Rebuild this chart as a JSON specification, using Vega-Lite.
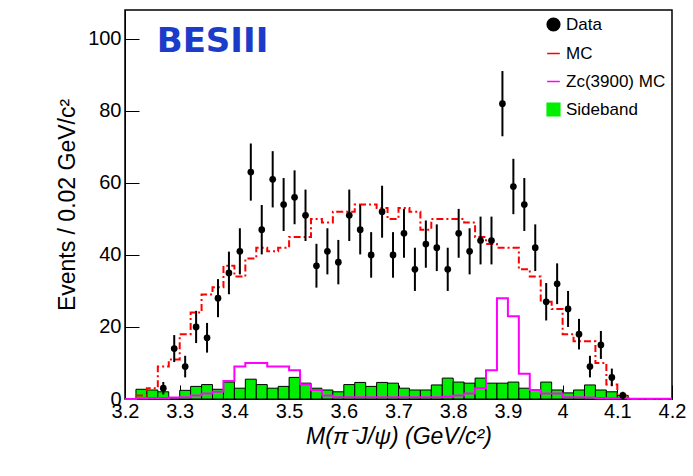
{
"$schema":"https://vega.github.io/schema/vega-lite/v6.json",
"autosize":{"type":"none"},
"width":547,"height":389,
"padding":{"left":125,"top":10,"right":21,"bottom":77},
"background":"white",
"config":{"font":"Liberation Sans","view":{"stroke":"black","strokeWidth":1.5}},
"datasets":{
"data":[{"x":3.27,"y":3},{"x":3.29,"y":14},{"x":3.31,"y":9},{"x":3.33,"y":20},{"x":3.35,"y":17},{"x":3.37,"y":28},{"x":3.39,"y":35},{"x":3.41,"y":41},{"x":3.43,"y":63},{"x":3.45,"y":47},{"x":3.47,"y":61},{"x":3.49,"y":54},{"x":3.51,"y":56},{"x":3.53,"y":51},{"x":3.55,"y":37},{"x":3.57,"y":41},{"x":3.59,"y":38},{"x":3.61,"y":51},{"x":3.63,"y":47},{"x":3.65,"y":40},{"x":3.67,"y":52},{"x":3.69,"y":40},{"x":3.71,"y":46},{"x":3.73,"y":36},{"x":3.75,"y":43},{"x":3.77,"y":42},{"x":3.79,"y":36},{"x":3.81,"y":46},{"x":3.83,"y":41},{"x":3.85,"y":44},{"x":3.87,"y":44},{"x":3.89,"y":82},{"x":3.91,"y":59},{"x":3.93,"y":54},{"x":3.95,"y":42},{"x":3.97,"y":27},{"x":3.99,"y":32},{"x":4.01,"y":25},{"x":4.03,"y":18},{"x":4.05,"y":9},{"x":4.07,"y":15},{"x":4.09,"y":6},{"x":4.11,"y":1}],
"mc":[{"x":3.22,"y":1},{"x":3.24,"y":3},{"x":3.26,"y":9},{"x":3.28,"y":11},{"x":3.30,"y":18},{"x":3.32,"y":24},{"x":3.34,"y":29},{"x":3.36,"y":31},{"x":3.38,"y":37},{"x":3.40,"y":34},{"x":3.42,"y":39},{"x":3.44,"y":42},{"x":3.46,"y":41},{"x":3.48,"y":42},{"x":3.50,"y":45},{"x":3.52,"y":45},{"x":3.54,"y":50},{"x":3.56,"y":49},{"x":3.58,"y":52},{"x":3.60,"y":52},{"x":3.62,"y":54},{"x":3.64,"y":54},{"x":3.66,"y":53},{"x":3.68,"y":50},{"x":3.70,"y":53},{"x":3.72,"y":52},{"x":3.74,"y":47},{"x":3.76,"y":50},{"x":3.78,"y":50},{"x":3.80,"y":50},{"x":3.82,"y":49},{"x":3.84,"y":45},{"x":3.86,"y":43},{"x":3.88,"y":42},{"x":3.90,"y":42},{"x":3.92,"y":36},{"x":3.94,"y":34},{"x":3.96,"y":27},{"x":3.98,"y":25},{"x":4.00,"y":18},{"x":4.02,"y":16},{"x":4.04,"y":16},{"x":4.06,"y":10},{"x":4.08,"y":4},{"x":4.10,"y":1},{"x":4.12,"y":0},{"x":4.20,"y":0}],
"zc":[{"x":3.20,"y":0},{"x":3.22,"y":0.2},{"x":3.24,"y":0.3},{"x":3.26,"y":0.3},{"x":3.28,"y":0.4},{"x":3.30,"y":0.5},{"x":3.32,"y":1},{"x":3.34,"y":1.5},{"x":3.36,"y":2},{"x":3.38,"y":5},{"x":3.40,"y":9},{"x":3.42,"y":10},{"x":3.44,"y":10},{"x":3.46,"y":9},{"x":3.48,"y":9},{"x":3.50,"y":8},{"x":3.52,"y":4},{"x":3.54,"y":2.5},{"x":3.56,"y":1},{"x":3.58,"y":0.5},{"x":3.60,"y":0.5},{"x":3.62,"y":0.5},{"x":3.64,"y":0.5},{"x":3.66,"y":0.5},{"x":3.68,"y":0.5},{"x":3.70,"y":0.5},{"x":3.72,"y":0.5},{"x":3.74,"y":0.5},{"x":3.76,"y":0.5},{"x":3.78,"y":0.6},{"x":3.80,"y":1},{"x":3.82,"y":1.5},{"x":3.84,"y":3},{"x":3.86,"y":8},{"x":3.88,"y":28},{"x":3.90,"y":23},{"x":3.92,"y":7},{"x":3.94,"y":2.5},{"x":3.96,"y":1.5},{"x":3.98,"y":1.5},{"x":4.00,"y":0.5},{"x":4.02,"y":0.5},{"x":4.04,"y":0.4},{"x":4.06,"y":0.3},{"x":4.08,"y":0.2},{"x":4.10,"y":0.2},{"x":4.12,"y":0.1},{"x":4.14,"y":0.1},{"x":4.16,"y":0.1},{"x":4.18,"y":0.1},{"x":4.20,"y":0.1}],
"sb":[{"x":3.22,"x2":3.24,"y":2.7},{"x":3.24,"x2":3.26,"y":2.5},{"x":3.26,"x2":3.28,"y":2},{"x":3.30,"x2":3.32,"y":2.4},{"x":3.32,"x2":3.34,"y":3.5},{"x":3.34,"x2":3.36,"y":4},{"x":3.36,"x2":3.38,"y":2.7},{"x":3.38,"x2":3.40,"y":4.7},{"x":3.40,"x2":3.42,"y":3},{"x":3.42,"x2":3.44,"y":5.5},{"x":3.44,"x2":3.46,"y":4},{"x":3.46,"x2":3.48,"y":3},{"x":3.48,"x2":3.50,"y":3.5},{"x":3.50,"x2":3.52,"y":6},{"x":3.52,"x2":3.54,"y":4.4},{"x":3.54,"x2":3.56,"y":3},{"x":3.56,"x2":3.58,"y":2.5},{"x":3.58,"x2":3.60,"y":2},{"x":3.60,"x2":3.62,"y":4},{"x":3.62,"x2":3.64,"y":4.6},{"x":3.64,"x2":3.66,"y":3.5},{"x":3.66,"x2":3.68,"y":4.6},{"x":3.68,"x2":3.70,"y":4.4},{"x":3.70,"x2":3.72,"y":3},{"x":3.72,"x2":3.74,"y":2.5},{"x":3.74,"x2":3.76,"y":2.5},{"x":3.76,"x2":3.78,"y":3.9},{"x":3.78,"x2":3.80,"y":5.8},{"x":3.80,"x2":3.82,"y":4.7},{"x":3.82,"x2":3.84,"y":4.4},{"x":3.84,"x2":3.86,"y":5.8},{"x":3.86,"x2":3.88,"y":4.4},{"x":3.88,"x2":3.90,"y":4.4},{"x":3.90,"x2":3.92,"y":4.7},{"x":3.92,"x2":3.94,"y":3},{"x":3.94,"x2":3.96,"y":2.5},{"x":3.96,"x2":3.98,"y":4.7},{"x":3.98,"x2":4.00,"y":2.5},{"x":4.00,"x2":4.02,"y":1.7},{"x":4.02,"x2":4.04,"y":2.5},{"x":4.04,"x2":4.06,"y":3.9},{"x":4.06,"x2":4.08,"y":2.5},{"x":4.08,"x2":4.10,"y":2},{"x":4.10,"x2":4.12,"y":1}],
"logo":[{"x":3.36,"y":99,"t":"BESIII"}]
},
"encoding":{
"x":{"field":"x","type":"quantitative","scale":{"domain":[3.2,4.2],"nice":false},
"axis":{"values":[3.2,3.3,3.4,3.5,3.6,3.7,3.8,3.9,4.0,4.1,4.2],"labelExpr":"datum.value==4?'4':format(datum.value,'.1f')","labelFontSize":20,"labelColor":"black","domainColor":"black","tickColor":"black","tickSize":-14,"grid":false,"title":"M(π⁻J/ψ) (GeV/c²)","titleFontSize":23,"titleFontWeight":"normal","titleFontStyle":"italic","titlePadding":4,"labelPadding":16,"labelFlush":false}},
"y":{"field":"y","type":"quantitative","scale":{"domain":[0,108],"nice":false},
"axis":{"values":[0,20,40,60,80,100],"labelFontSize":20,"labelColor":"black","domainColor":"black","tickColor":"black","tickSize":-14,"grid":false,"title":"Events / 0.02 GeV/c²","titleFontSize":23,"titleFontWeight":"normal","titlePadding":8,"labelPadding":18}},
"color":{"field":"s","type":"nominal","scale":{"domain":["Data","MC","Zc(3900) MC","Sideband"],"range":["black","red","magenta","#00ee00"]},
"legend":{"orient":"top-right","title":null,"labelFontSize":17,"labelColor":"black","symbolSize":160,"rowPadding":10,"offset":6,"symbolStrokeColor":"black"}}
},
"layer":[
{"data":{"name":"sb"},"transform":[{"calculate":"'Sideband'","as":"s"}],"mark":{"type":"bar","stroke":"black","strokeWidth":1,"opacity":1,"binSpacing":0},"encoding":{"x2":{"field":"x2"},"y2":{"datum":0}}},
{"data":{"name":"mc"},"transform":[{"calculate":"'MC'","as":"s"}],"mark":{"type":"line","interpolate":"step-after","strokeDash":[7,3,2,3],"strokeWidth":2}},
{"data":{"name":"zc"},"transform":[{"calculate":"'Zc(3900) MC'","as":"s"}],"mark":{"type":"line","interpolate":"step-after","strokeWidth":2}},
{"data":{"name":"data"},"transform":[{"calculate":"'Data'","as":"s"},{"calculate":"datum.y-sqrt(datum.y)","as":"lo"},{"calculate":"datum.y+sqrt(datum.y)","as":"hi"}],"mark":{"type":"rule","strokeWidth":2,"color":"black"},"encoding":{"y":{"field":"lo"},"y2":{"field":"hi"},"color":{"value":"black"}}},
{"data":{"name":"data"},"transform":[{"calculate":"'Data'","as":"s"}],"mark":{"type":"point","filled":true,"size":45,"opacity":1},
"encoding":{"shape":{"field":"s","type":"nominal","scale":{"domain":["Data","MC","Zc(3900) MC","Sideband"],"range":["circle","stroke","stroke","square"]}}}},
{"data":{"name":"logo"},"mark":{"type":"text","fontSize":34,"fontWeight":"bold","color":"#1a3cc8","font":"DejaVu Sans"},"encoding":{"text":{"field":"t"},"color":{"value":"#1a3cc8"}}}
]
}
